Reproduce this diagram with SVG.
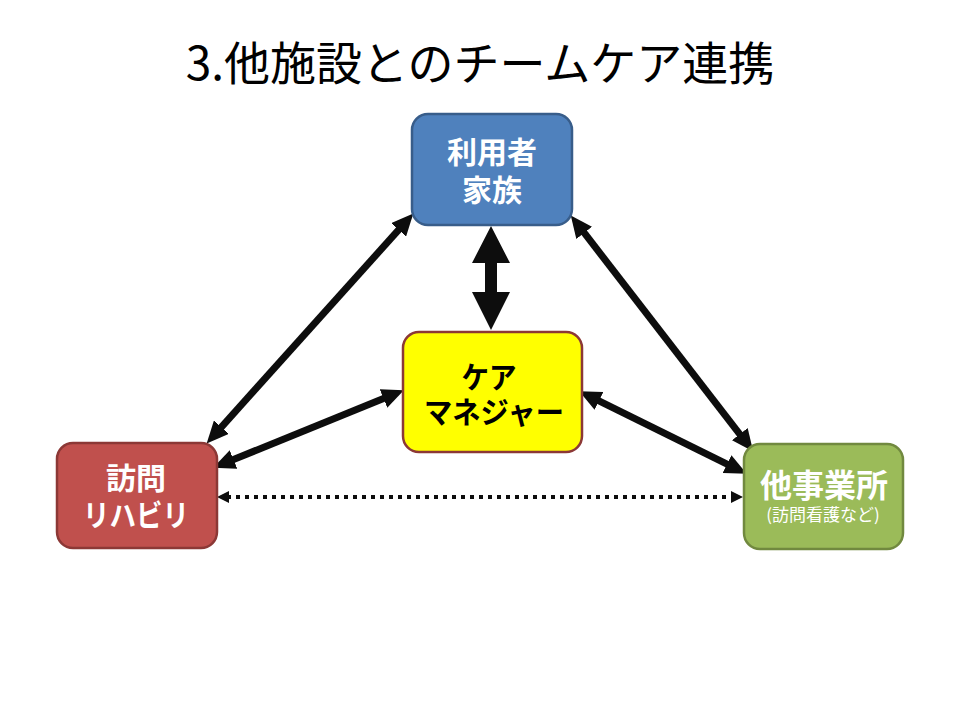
<svg xmlns="http://www.w3.org/2000/svg" width="960" height="720" viewBox="0 0 960 720">
<style>
text{font-family:"Noto Sans CJK JP","Noto Sans",sans-serif;text-anchor:middle}
.nt{font-size:30px;font-weight:700;fill:#fff}
.box{stroke-width:2.5}
.thick{stroke:#0d0d0d;stroke-width:7;fill:none;marker-start:url(#ah);marker-end:url(#ah)}
.dot{stroke:#0d0d0d;stroke-width:4;stroke-dasharray:4 5;fill:none;marker-start:url(#ahs);marker-end:url(#ahs)}
</style>
<defs>
<marker id="ah" viewBox="0 0 22 20" refX="4" refY="10" markerWidth="22" markerHeight="20" markerUnits="userSpaceOnUse" orient="auto-start-reverse"><path d="M0,0 L22,10 L0,20 z" fill="#0d0d0d"/></marker>
<marker id="ahs" viewBox="0 0 12 12" refX="2" refY="6" markerWidth="12" markerHeight="12" markerUnits="userSpaceOnUse" orient="auto-start-reverse"><path d="M0,0 L12,6 L0,12 z" fill="#0d0d0d"/></marker>
</defs>
<rect width="960" height="720" fill="#fff"/>
<text x="480" y="80" style="font-size:46px;fill:#000">3.他施設とのチームケア連携</text>
<g id="connectors">
<line class="thick" x1="401.3" y1="226.9" x2="218.7" y2="430.1"/>
<line class="thick" x1="387.2" y1="397" x2="229.8" y2="461"/>
<line class="thick" x1="581.8" y1="229.7" x2="742.2" y2="437.3"/>
<line class="thick" x1="595.4" y1="399.1" x2="730.6" y2="465.9"/>
<line class="dot" x1="227" y1="497" x2="733" y2="497"/>
<polygon points="491,226 510,263 497,263 497,292 510,292 491,330 472,292 485,292 485,263 472,263" fill="#0d0d0d"/>
</g>
<g id="user-family">
<rect class="box" x="412" y="114" width="160" height="111" rx="16" fill="#4F81BD" stroke="#385D8A"/>
<text class="nt" x="492" y="163">利用者</text>
<text class="nt" x="492" y="201">家族</text>
</g>
<g id="care-manager">
<rect class="box" x="403" y="332" width="179" height="120" rx="16" fill="#FFFF00" stroke="#8C3836"/>
<text class="nt" x="489" y="388" style="fill:#000" textLength="55" lengthAdjust="spacingAndGlyphs">ケア</text>
<text class="nt" x="494" y="423" style="fill:#000" textLength="140" lengthAdjust="spacingAndGlyphs">マネジャー</text>
</g>
<g id="visit-rehab">
<rect class="box" x="57" y="443" width="160" height="105" rx="16" fill="#C0504D" stroke="#8C3836"/>
<text class="nt" x="136" y="489">訪問</text>
<text class="nt" x="136" y="526" textLength="106" lengthAdjust="spacingAndGlyphs">リハビリ</text>
</g>
<g id="other-office">
<rect class="box" x="744" y="444" width="159" height="105" rx="16" fill="#9BBB59" stroke="#71893F"/>
<text class="nt" x="824" y="497" style="font-size:32px">他事業所</text>
<text x="823" y="521" style="font-size:17px;fill:#fff">(訪問看護など)</text>
</g>
</svg>
